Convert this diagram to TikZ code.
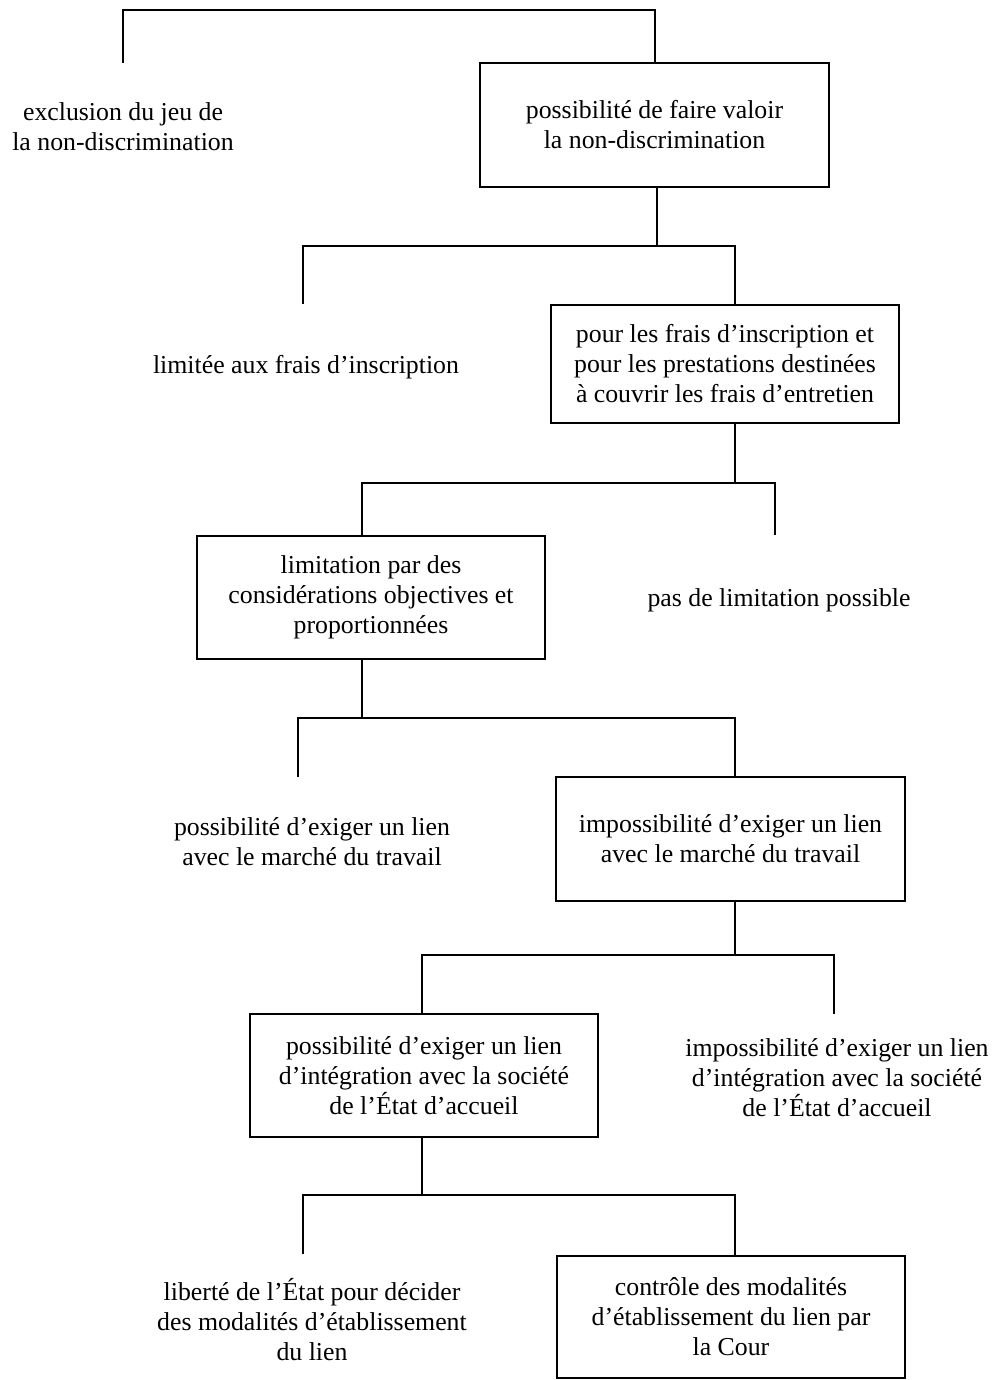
\documentclass[tikz,border=0pt]{standalone}
\usepackage{fontspec}
\setmainfont{Liberation Serif}
\begin{document}
\begin{tikzpicture}[x=1pt,y=-1pt,
  box/.style={draw, line width=1.5pt, minimum width=348, minimum height=123, inner sep=0pt, align=center, font=\fontsize{25.8}{30}\selectfont},
  lbl/.style={inner sep=0pt, align=center, font=\fontsize{25.8}{30}\selectfont},
  con/.style={line width=1.5pt}]
\useasboundingbox (0,0) rectangle (996,1380);
% nodes
\node[lbl] (t1) at (123,127) {exclusion du jeu de\\la non-discrimination};
\node[box, minimum width=349, minimum height=124] (b1) at (654.5,125) {possibilité de faire valoir\\la non-discrimination};
\node[lbl] (t2) at (306,367) {limitée aux frais d’inscription};
\node[box, minimum height=118] (b2) at (725,364) {pour les frais d’inscription et\\pour les prestations destinées\\à couvrir les frais d’entretien};
\node[box] (b3) at (371,597.5) {limitation par des\\considérations objectives et\\proportionnées};
\node[lbl] (t3) at (779,600) {pas de limitation possible};
\node[lbl] (t4) at (312,842) {possibilité d’exiger un lien\\avec le marché du travail};
\node[box, minimum width=349, minimum height=124] (b4) at (730.5,839) {impossibilité d’exiger un lien\\avec le marché du travail};
\node[box] (b5) at (424,1075.5) {possibilité d’exiger un lien\\d’intégration avec la société\\de l’État d’accueil};
\node[lbl] (t5) at (837,1078) {impossibilité d’exiger un lien\\d’intégration avec la société\\de l’État d’accueil};
\node[lbl] (t6) at (312,1320) {liberté de l’État pour décider\\des modalités d’établissement\\du lien};
\node[box, minimum height=122] (b6) at (731,1317) {contrôle des modalités\\d’établissement du lien par\\la Cour};
% coordinates
\coordinate (cL1) at (123,10); \coordinate (cR1) at (655,10); \coordinate (f1L) at (123,63);
\coordinate (j2) at (657,246); \coordinate (cL2) at (303,246); \coordinate (cR2) at (735,246); \coordinate (f2L) at (303,304);
\coordinate (j3) at (735,483); \coordinate (cL3) at (362,483); \coordinate (cR3) at (775,483); \coordinate (f3R) at (775,535);
\coordinate (j4) at (362,718); \coordinate (cL4) at (298,718); \coordinate (cR4) at (735,718); \coordinate (f4L) at (298,777);
\coordinate (j5) at (735,955); \coordinate (cL5) at (422,955); \coordinate (cR5) at (834,955); \coordinate (f5R) at (834,1014);
\coordinate (j6) at (422,1195); \coordinate (cL6) at (303,1195); \coordinate (cR6) at (735,1195); \coordinate (f6L) at (303,1254);
% connectors
\draw[con] (f1L) -- (cL1) -- (cR1) -- (cR1 |- b1.north);
\draw[con] (b1.south -| j2) -- (j2);
\draw[con] (f2L) -- (cL2) -- (cR2) -- (cR2 |- b2.north);
\draw[con] (b2.south -| j3) -- (j3);
\draw[con] (cL3 |- b3.north) -- (cL3) -- (cR3) -- (f3R);
\draw[con] (b3.south -| j4) -- (j4);
\draw[con] (f4L) -- (cL4) -- (cR4) -- (cR4 |- b4.north);
\draw[con] (b4.south -| j5) -- (j5);
\draw[con] (cL5 |- b5.north) -- (cL5) -- (cR5) -- (f5R);
\draw[con] (b5.south -| j6) -- (j6);
\draw[con] (f6L) -- (cL6) -- (cR6) -- (cR6 |- b6.north);
\end{tikzpicture}
\end{document}
